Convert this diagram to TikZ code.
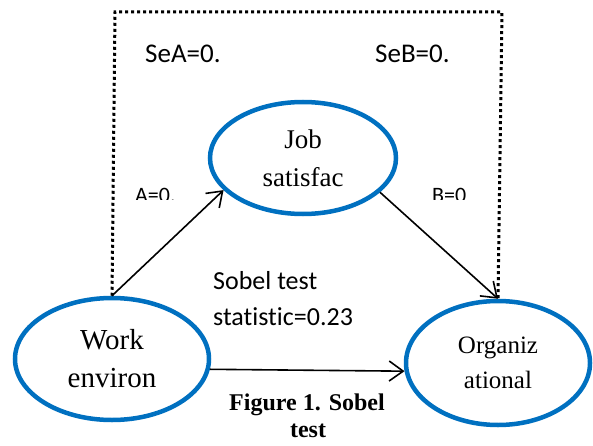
\documentclass[tikz,border=0pt]{standalone}
\usepackage{fontspec}
\setmainfont{Liberation Serif}
\setsansfont{Carlito}[Ligatures=NoCommon]
\usetikzlibrary{arrows.meta,shapes.geometric,positioning}
\definecolor{ovalblue}{RGB}{0,112,192}

\begin{document}
\begin{tikzpicture}[x=1pt, y=-1pt,
    oval/.style={ellipse, draw=ovalblue, line width=4.5pt, inner sep=0pt, align=center},
    lbl/.style={font=\sffamily\fontsize{27}{33}\selectfont, inner sep=0pt, anchor=base west},
    >={Straight Barb[length=14pt,width=20pt]}]
      \useasboundingbox (0,0) rectangle (593,446);

      \node[oval, minimum width=186pt, minimum height=112pt,
            font=\fontsize{27}{38}\selectfont] (Job) at (303,158) {Job\\satisfac};
      \node[oval, minimum width=194pt, minimum height=122pt,
            font=\fontsize{29}{38}\selectfont] (Work) at (112,359) {Work\\environ};
      \node[oval, minimum width=184pt, minimum height=124pt,
            font=\fontsize{25}{35}\selectfont] (Org) at (498,363) {Organiz\\ational};

      \coordinate (TL) at (115,12);
      \coordinate (TR) at (502,12);

      \node[lbl] (SeA) at (145,63) {SeA=0.};
      \node[lbl] (SeB) at (375,63) {SeB=0.};

      % labels cut off at the bottom
      \begin{scope}
        \clip (125,170) rectangle (485,199);
        \node[lbl, font=\sffamily\fontsize{22}{26}\selectfont] (A) at (135,203) {A=0.};
        \node[lbl, font=\sffamily\fontsize{22}{26}\selectfont] (B) at (432,203) {B=0};
      \end{scope}

      \node[lbl, font=\sffamily\fontsize{26}{32}\selectfont] (Sobel) at (213,289) {Sobel test};
      \node[lbl, font=\sffamily\fontsize{26}{32}\selectfont] (Stat) at (213,325) {statistic=0.23};

      \node[font=\bfseries\fontsize{24}{27}\selectfont, inner sep=0pt, anchor=base] (Fig) at (307,410) {Figure 1. Sobel};
      \node[font=\bfseries\fontsize{24}{27}\selectfont, inner sep=0pt, anchor=base] (FigB) at (308,437) {test};

      \draw[line width=3pt, dash pattern=on 3pt off 3pt] (Work.north) -- (TL) -- (TR) -- (Org.north);

      \draw[->, line width=1.6pt] (Work.north) to (Job.202);
      \draw[->, line width=1.6pt] (Job.-24) to (Org.north);
      \draw[->, line width=1.6pt] (Work.-6) to (Org.185);

\end{tikzpicture}
\end{document}
